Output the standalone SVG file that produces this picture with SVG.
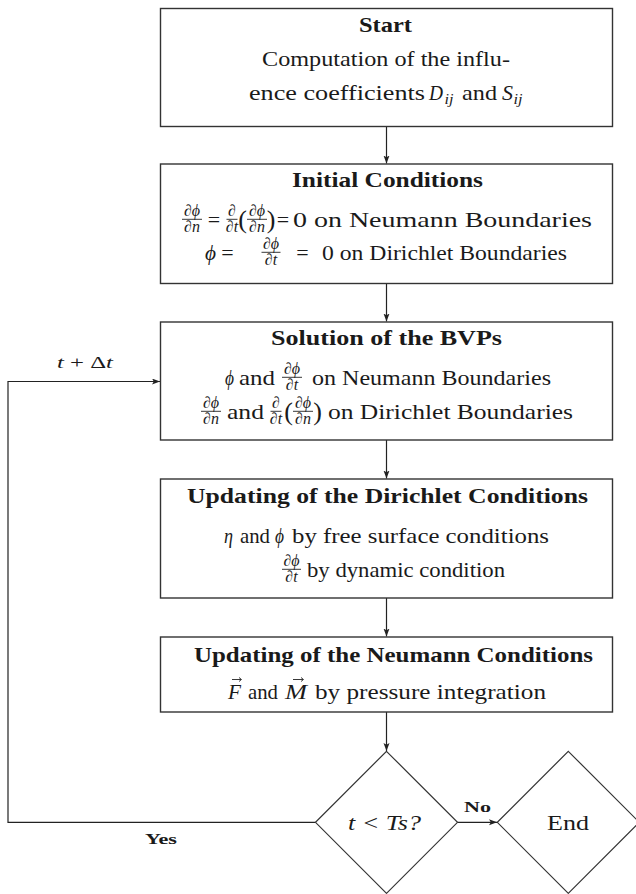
<svg xmlns="http://www.w3.org/2000/svg" width="636" height="894" viewBox="0 0 636 894" font-family="'Liberation Serif', 'DejaVu Serif', serif">
<defs>
<style>
.box{fill:#fff;stroke:#333;stroke-width:1.4}
.con{fill:none;stroke:#222;stroke-width:1.2}
.rm,.bf,.it,.fr,.sub,.par,.lab{font-family:'Liberation Serif','DejaVu Serif',serif;fill:#1a1a1a}
.rm{font-size:22px}
.bf{font-size:22px;font-weight:bold}
.it{font-size:22px;font-style:italic}
.fr{font-size:16px;font-style:italic;text-anchor:middle}
.sub{font-size:15px;font-style:italic}
.par{font-size:26px;text-anchor:middle}
.lab{font-size:15px;font-weight:bold}
.mid{text-anchor:middle}
.bar{stroke:#222;stroke-width:0.9}
</style>
<marker id="ah" markerWidth="9" markerHeight="7" refX="8" refY="3" orient="auto" markerUnits="userSpaceOnUse">
<path d="M0,0 L8,3 L0,6 L1.8,3 z" fill="#222"/>
</marker>
</defs>
<rect width="636" height="894" fill="#fff"/>

<g id="connectors">
<line class="con" x1="386.5" y1="126.5" x2="386.5" y2="163.5" marker-end="url(#ah)"/>
<line class="con" x1="386.5" y1="283.5" x2="386.5" y2="321.5" marker-end="url(#ah)"/>
<line class="con" x1="386.5" y1="440" x2="386.5" y2="478.5" marker-end="url(#ah)"/>
<line class="con" x1="386.5" y1="598" x2="386.5" y2="636.5" marker-end="url(#ah)"/>
<line class="con" x1="386.5" y1="712" x2="386.5" y2="751" marker-end="url(#ah)"/>
<line class="con" x1="457.5" y1="822.3" x2="497" y2="822.3" marker-end="url(#ah)"/>
<polyline class="con" points="315.5,822.3 8,822.3 8,381.5 160,381.5" marker-end="url(#ah)"/>
<text class="it" x="57" y="368" style="font-size:17px" textLength="56" lengthAdjust="spacingAndGlyphs">t <tspan font-style="normal">+ Δ</tspan>t</text>
<text class="lab" x="145" y="844" textLength="32" lengthAdjust="spacingAndGlyphs">Yes</text>
<text class="lab" x="464" y="812" textLength="27" lengthAdjust="spacingAndGlyphs">No</text>
</g>

<g id="start">
<rect class="box" x="160.5" y="8.5" width="452" height="118"/>
<text class="bf" x="359" y="32" textLength="53" lengthAdjust="spacingAndGlyphs">Start</text>
<text class="rm" x="262" y="66" textLength="248" lengthAdjust="spacingAndGlyphs">Computation of the influ-</text>
<text class="rm" x="249" y="100" textLength="176" lengthAdjust="spacingAndGlyphs">ence coefficients</text>
<text class="it" x="429" y="100" textLength="14" lengthAdjust="spacingAndGlyphs">D</text>
<text class="sub" x="444.5" y="104" textLength="9" lengthAdjust="spacingAndGlyphs">ij</text>
<text class="rm" x="462" y="100" textLength="35" lengthAdjust="spacingAndGlyphs">and</text>
<text class="it" x="502" y="100" textLength="11" lengthAdjust="spacingAndGlyphs">S</text>
<text class="sub" x="513.5" y="104" textLength="9" lengthAdjust="spacingAndGlyphs">ij</text>
</g>

<g id="initial">
<rect class="box" x="160.5" y="164" width="452" height="119.5"/>
<text class="bf" x="292" y="187" textLength="191" lengthAdjust="spacingAndGlyphs">Initial Conditions</text>
<text class="fr" x="192" y="216">∂ϕ</text><line class="bar" x1="182" y1="219.3" x2="202" y2="219.3"/><text class="fr" x="192" y="232">∂n</text>
<text class="rm mid" x="214" y="227">=</text>
<text class="fr" x="232" y="216">∂</text><line class="bar" x1="226.5" y1="219.3" x2="237.5" y2="219.3"/><text class="fr" x="232" y="232">∂t</text>
<text class="par" x="242.5" y="228">(</text>
<text class="fr" x="257" y="216">∂ϕ</text><line class="bar" x1="247" y1="219.3" x2="267" y2="219.3"/><text class="fr" x="257" y="232">∂n</text>
<text class="par" x="271" y="228">)</text>
<text class="rm mid" x="283" y="227">=</text>
<text class="rm" x="293" y="227" textLength="299" lengthAdjust="spacingAndGlyphs">0 on Neumann Boundaries</text>
<text class="it" x="205" y="260" textLength="11" lengthAdjust="spacingAndGlyphs">ϕ</text>
<text class="rm mid" x="227.5" y="260">=</text>
<text class="fr" x="271" y="249">∂ϕ</text><line class="bar" x1="261.5" y1="252.3" x2="280.5" y2="252.3"/><text class="fr" x="271" y="265">∂t</text>
<text class="rm mid" x="302.5" y="260">=</text>
<text class="rm" x="322" y="260" textLength="245" lengthAdjust="spacingAndGlyphs">0 on Dirichlet Boundaries</text>
</g>

<g id="solution">
<rect class="box" x="160.5" y="322" width="452" height="118"/>
<text class="bf" x="271" y="345" textLength="231" lengthAdjust="spacingAndGlyphs">Solution of the BVPs</text>
<text class="it" x="225" y="385" textLength="9" lengthAdjust="spacingAndGlyphs">ϕ</text>
<text class="rm" x="239" y="385" textLength="36" lengthAdjust="spacingAndGlyphs">and</text>
<text class="fr" x="292" y="374">∂ϕ</text><line class="bar" x1="282" y1="377.3" x2="302" y2="377.3"/><text class="fr" x="292" y="390">∂t</text>
<text class="rm" x="312" y="385" textLength="239" lengthAdjust="spacingAndGlyphs">on Neumann Boundaries</text>
<text class="fr" x="211" y="408">∂ϕ</text><line class="bar" x1="201" y1="411.3" x2="221" y2="411.3"/><text class="fr" x="211" y="424">∂n</text>
<text class="rm" x="227" y="419" textLength="37" lengthAdjust="spacingAndGlyphs">and</text>
<text class="fr" x="276" y="408">∂</text><line class="bar" x1="270.5" y1="411.3" x2="281.5" y2="411.3"/><text class="fr" x="276" y="424">∂t</text>
<text class="par" x="288.5" y="420">(</text>
<text class="fr" x="303" y="408">∂ϕ</text><line class="bar" x1="293" y1="411.3" x2="313" y2="411.3"/><text class="fr" x="303" y="424">∂n</text>
<text class="par" x="317.5" y="420">)</text>
<text class="rm" x="328" y="419" textLength="245" lengthAdjust="spacingAndGlyphs">on Dirichlet Boundaries</text>
</g>

<g id="dirichlet">
<rect class="box" x="160.5" y="479" width="452" height="119"/>
<text class="bf" x="187" y="503" textLength="401" lengthAdjust="spacingAndGlyphs">Updating of the Dirichlet Conditions</text>
<text class="it" x="224" y="543" textLength="9" lengthAdjust="spacingAndGlyphs">η</text>
<text class="rm" x="240" y="543" textLength="30" lengthAdjust="spacingAndGlyphs">and</text>
<text class="it" x="275" y="543" textLength="9" lengthAdjust="spacingAndGlyphs">ϕ</text>
<text class="rm" x="292" y="543" textLength="257" lengthAdjust="spacingAndGlyphs">by free surface conditions</text>
<text class="fr" x="291.5" y="566">∂ϕ</text><line class="bar" x1="282" y1="569.3" x2="301" y2="569.3"/><text class="fr" x="291.5" y="582">∂t</text>
<text class="rm" x="307" y="577" textLength="198" lengthAdjust="spacingAndGlyphs">by dynamic condition</text>
</g>

<g id="neumann">
<rect class="box" x="160.5" y="637" width="452" height="75"/>
<text class="bf" x="194" y="662" textLength="399" lengthAdjust="spacingAndGlyphs">Updating of the Neumann Conditions</text>
<text class="it" x="228" y="699" textLength="13" lengthAdjust="spacingAndGlyphs">F</text>
<path d="M232,679.5 H241 M239,677.5 L241.5,679.5 L239,681.5" fill="none" stroke="#222" stroke-width="0.9"/>
<text class="rm" x="248" y="699" textLength="30" lengthAdjust="spacingAndGlyphs">and</text>
<text class="it" x="285" y="699" textLength="22" lengthAdjust="spacingAndGlyphs">M</text>
<path d="M293,679.5 H303 M301,677.5 L303.5,679.5 L301,681.5" fill="none" stroke="#222" stroke-width="0.9"/>
<text class="rm" x="315" y="699" textLength="231" lengthAdjust="spacingAndGlyphs">by pressure integration</text>
</g>

<g id="decision">
<polygon class="box" points="386.5,751.3 457.5,822.3 386.5,893.3 315.5,822.3" style="stroke-width:1.2"/>
<text class="it" x="348" y="830" textLength="73" lengthAdjust="spacingAndGlyphs">t &lt; Ts?</text>
</g>

<g id="end">
<polygon class="box" points="568.3,751.3 639.3,822.3 568.3,893.3 497.3,822.3" style="stroke-width:1.2"/>
<text class="rm" x="547" y="830" textLength="42" lengthAdjust="spacingAndGlyphs">End</text>
</g>
</svg>
